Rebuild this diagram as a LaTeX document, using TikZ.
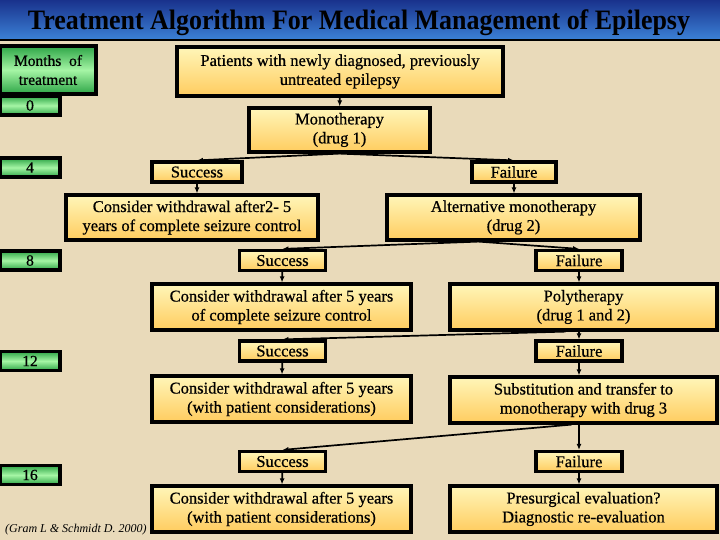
\documentclass[tikz,border=0pt]{standalone}
\usepackage{fontspec}
\setmainfont{Liberation Serif}
\newfontfamily\boxfont{Liberation Serif}[FakeBold=0.6]
\usetikzlibrary{arrows.meta}
\definecolor{bgcol}{RGB}{233,218,186}
\definecolor{ytop}{RGB}{255,246,185}
\definecolor{ybot}{RGB}{255,204,95}
\definecolor{gedge}{RGB}{45,165,70}
\definecolor{gmid}{RGB}{165,245,165}
\definecolor{tnavy}{RGB}{25,50,140}
\definecolor{tcyan}{RGB}{120,225,255}
\definecolor{tblue}{RGB}{60,130,215}
\tikzset{
  ybox/.style={draw=black, line width=3.2pt, top color=ytop, bottom color=ybot, align=center, inner sep=2pt,
    font=\boxfont\fontsize{16.5}{19}\selectfont},
  sfbox/.style={ybox, minimum width=86pt, minimum height=20pt},
  gbox/.style={draw=black, line width=3.2pt, top color=gedge, bottom color=gedge, middle color=gmid, align=center,
    inner sep=1pt, font=\boxfont\fontsize{15.5}{19}\selectfont},
  mbox/.style={gbox, minimum width=60pt, minimum height=19pt},
  conn/.style={line width=1.7pt, -{Latex[length=6pt,width=5pt]}},
}
\begin{document}
\begin{tikzpicture}[x=1pt,y=-1pt]
\useasboundingbox (0,0) rectangle (720,540);
\fill[bgcol] (0,0) rectangle (720,540);
% title bar
\shade[top color=tnavy, middle color=tcyan, bottom color=tblue] (0,0) rectangle (720,40);
\draw[line width=2.5pt] (0,40) -- (720,40);
\node (title) at (359,23) {\resizebox*{662pt}{26pt}{\bfseries Treatment Algorithm For Medical Management of Epilepsy}};
% months column
\node[gbox, minimum width=96pt, minimum height=48pt] (months) at (48,70) {Months \ of\\treatment};
\node[mbox] (m0) at (30,105.5) {0};
\node[mbox] (m4) at (30,167.5) {4};
\node[mbox] (m8) at (30,260.5) {8};
\node[mbox] (m12) at (30,361) {12};
\node[mbox] (m16) at (30,475) {16};
\node[anchor=base west, inner sep=0pt, font=\fontsize{12}{14}\itshape\selectfont] (cite) at (5,532) {(Gram L \& Schmidt D. 2000)};
% main boxes
\node[ybox, minimum width=326pt, minimum height=49pt] (pat) at (340,71.5) {Patients with newly diagnosed, previously\\untreated epilepsy};
\node[ybox, minimum width=181pt, minimum height=44pt] (mono) at (339.5,130) {Monotherapy\\(drug 1)};
\node[sfbox, minimum width=90pt] (s1) at (197,172) {Success};
\node[sfbox, minimum width=84pt] (f1) at (514,172) {Failure};
\node[ybox, minimum width=252pt, minimum height=45pt] (cw1) at (192,217.5) {Consider withdrawal after2- 5\\years of complete seizure control};
\node[ybox, minimum width=253pt, minimum height=45pt] (am) at (513.5,217.5) {Alternative monotherapy\\(drug 2)};
\node[sfbox] (s2) at (282.5,260.5) {Success};
\node[sfbox] (f2) at (579,260.5) {Failure};
\node[ybox, minimum width=259pt, minimum height=46pt] (cw2) at (281.5,307) {Consider withdrawal after 5 years\\of complete seizure control};
\node[ybox, minimum width=267pt, minimum height=46pt] (poly) at (583.5,307) {Polytherapy\\(drug 1 and 2)};
\node[sfbox] (s3) at (282.5,351) {Success};
\node[sfbox] (f3) at (579,351) {Failure};
\node[ybox, minimum width=259pt, minimum height=46pt] (cw3) at (281.5,399) {Consider withdrawal after 5 years\\(with patient considerations)};
\node[ybox, minimum width=267pt, minimum height=46pt] (sub) at (583.5,400) {Substitution and transfer to\\monotherapy with drug 3};
\node[sfbox] (s4) at (282.5,461.5) {Success};
\node[sfbox] (f4) at (579,461.5) {Failure};
\node[ybox, minimum width=259pt, minimum height=46pt] (cw4) at (281.5,509) {Consider withdrawal after 5 years\\(with patient considerations)};
\node[ybox, minimum width=267pt, minimum height=46pt] (pre) at (583.5,509) {Presurgical evaluation?\\Diagnostic re-evaluation};
% connectors
\draw[conn] (pat) -- (mono);
\draw[conn] (mono.south) -- (s1.north);
\draw[conn] (mono.south) -- (f1.north);
\draw[conn] (s1) -- (s1 |- cw1.north);
\draw[conn] (f1) -- (f1 |- am.north);
\draw[conn] ([xshift=-35pt]am.south) -- (s2.north);
\draw[conn] ([xshift=-35pt]am.south) -- (f2.north);
\draw[conn] (s2) -- (cw2);
\draw[conn] (f2) -- (f2 |- poly.north);
\draw[conn] ([xshift=-18pt]poly.south) -- (s3.north);
\draw[conn] (f2 |- poly.south) -- (f3.north);
\draw[conn] (s3) -- (cw3);
\draw[conn] (f3) -- (f3 |- sub.north);
\draw[conn] ([xshift=-12pt]sub.south) -- (s4.north);
\draw[conn] (f3 |- sub.south) -- (f4.north);
\draw[conn] (s4) -- (cw4);
\draw[conn] (f4) -- (f4 |- pre.north);
\end{tikzpicture}
\end{document}
